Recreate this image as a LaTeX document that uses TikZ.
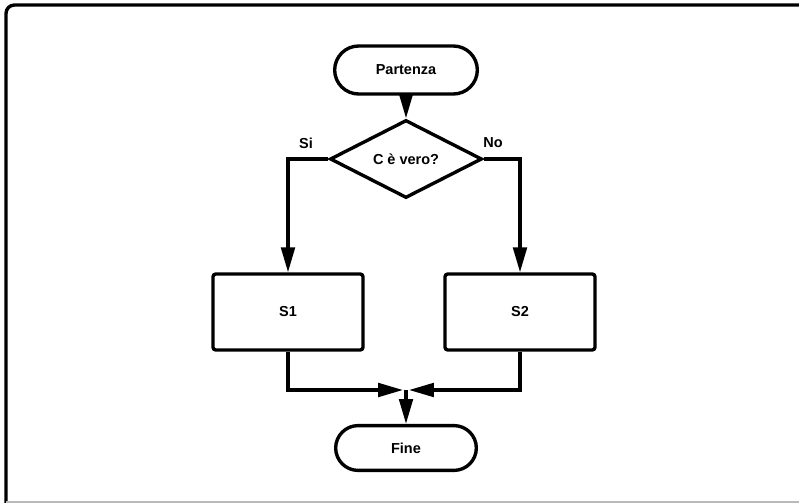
\documentclass[tikz,border=0pt]{standalone}
\usepackage{fontspec}
\setmainfont{Liberation Sans}
\usetikzlibrary{arrows.meta,shapes.geometric,shapes.misc}
\tikzset{
    txt/.style={font=\fontsize{10.3}{12}\selectfont\bfseries},
    pill/.style={draw, rounded rectangle, line width=2.4pt, txt,
        minimum width=3.8cm, minimum height=1.2cm},
    stepbox/.style={draw, rectangle, rounded corners=2pt, line width=2.4pt, txt,
        minimum width=3.75cm, minimum height=1.9cm},
    test/.style={draw, diamond, line width=2.4pt, txt, inner sep=0pt,
        minimum width=3.8cm, minimum height=1.95cm},
    flow/.style={line width=2.2pt, -{Triangle[length=0.62cm, width=0.34cm]}},
    link/.style={line width=2.2pt},
}
\begin{document}
\begin{tikzpicture}[x=0.025cm, y=-0.025cm]
    \useasboundingbox (0,0) rectangle (799,503);

    % cornice
    \draw[line width=2.4pt, rounded corners=6pt] (802,5) -- (6,5) -- (6,503);
    \draw[gray!55, line width=1pt] (6,502) -- (799,502);

    % blocchi
    \node[pill] (start) at (406,70) {Partenza};
    \node[test] (cond) at (406,159) {C è vero?};
    \node[stepbox] (s1) at (288,312) {S1};
    \node[stepbox] (s2) at (520,312) {S2};
    \node[pill, minimum width=3.75cm, minimum height=1.12cm] (stop) at (406,448) {Fine};

    \node[txt] (si) at (306,143) {Si};
    \node[txt] (no) at (493,143) {No};

    % punti di raccordo
    \coordinate (joinL) at (403,390);
    \coordinate (joinR) at (409,390);
    \coordinate (joinM) at (406,390);

    % frecce
    \draw[flow] (start) -- (cond);
    \draw[flow] (cond.west) -| (s1.north);
    \draw[flow] (cond.east) -| (s2.north);
    \draw[flow] (s1.south) |- (joinL);
    \draw[flow] (s2.south) |- (joinR);
    \draw[flow] (joinM) -- (stop.north);
\end{tikzpicture}
\end{document}
